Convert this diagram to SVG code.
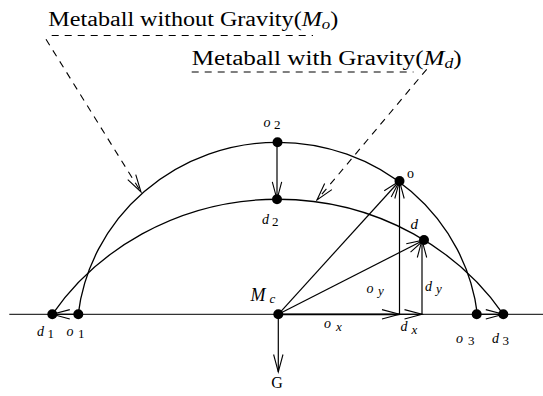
<svg xmlns="http://www.w3.org/2000/svg" width="543" height="396" viewBox="0 0 543 396">
<style>
.curve{fill:none;stroke:#000;stroke-width:1.3}
.axis{fill:none;stroke:#333;stroke-width:1.3}
.vec{fill:none;stroke:#000;stroke-width:1.2;marker-end:url(#ah)}
.dash{fill:none;stroke:#000;stroke-width:1.1;stroke-dasharray:7 6}
.dasharr{fill:none;stroke:#000;stroke-width:1.1;stroke-dasharray:7 6;marker-end:url(#ah)}
.dot{fill:#000}
text{font-family:"Liberation Serif","Times New Roman",serif;fill:#000}
.big{font-size:20px}
.lab{font-size:14px;font-style:italic}
.sub{font-size:13px;font-style:normal}
.subi{font-size:13px;font-style:italic}
.rm{font-size:16px}
</style>
<defs>
<marker id="ah" markerUnits="userSpaceOnUse" markerWidth="20" markerHeight="12" refX="17.5" refY="5" orient="auto" overflow="visible">
<path d="M0,0.3 L17.5,5 L0,9.7" fill="none" stroke="#000" stroke-width="1.1"/>
</marker>
</defs>

<g id="titles">
<text class="big" x="48.3" y="25.5" textLength="290" lengthAdjust="spacingAndGlyphs">Metaball without Gravity(<tspan font-style="italic">M</tspan><tspan font-style="italic" font-size="14" dy="3">o</tspan><tspan dy="-3">)</tspan></text>
<text class="big" x="191.7" y="65" textLength="270" lengthAdjust="spacingAndGlyphs">Metaball with Gravity(<tspan font-style="italic">M</tspan><tspan font-style="italic" font-size="14" dy="3">d</tspan><tspan dy="-3">)</tspan></text>
</g>

<g id="shapes">
<path class="axis" d="M9.3,314.3 H543"/>
<path id="outer-metaball" class="curve" d="M78.2,314.3 A201,195 0 0 1 477.4,314.3"/>
<path id="inner-metaball" class="curve" d="M52.3,314.3 A269.9,255.4 0 0 1 503.3,314.3"/>
</g>

<g id="connectors">
<path class="dash" d="M51.7,35.5 H313"/>
<path class="dash" d="M191.7,72 H413.5"/>
<path class="dasharr" d="M46,39.3 L141,192"/>
<path class="dasharr" d="M426.7,69.3 L317,200"/>
<path class="vec" d="M277,142.3 V199.3"/>
<path class="vec" d="M78.3,314.3 H52.3"/>
<path class="vec" d="M476.7,314.3 H503.3"/>
<path class="vec" d="M278.3,314.3 V372"/>
<path class="vec" style="stroke-width:1.8" d="M278.3,314.3 H399.5"/>
<path class="vec" d="M399.5,314.3 H422"/>
<path class="vec" d="M399.5,314.3 V181"/>
<path class="vec" d="M422,314.3 V240"/>
<path class="vec" d="M278.3,314.3 L399.5,181"/>
<path class="vec" d="M278.3,314.3 L424,240"/>
</g>

<g id="node-o2"><circle class="dot" cx="277.5" cy="142.3" r="5"/><text class="lab" x="263.5" y="127">o<tspan class="sub" x="274" y="128.5">2</tspan></text></g>
<g id="node-d2"><circle class="dot" cx="277" cy="199.3" r="5"/><text class="lab" x="262" y="224">d<tspan class="sub" x="272" y="226">2</tspan></text></g>
<g id="node-d1"><circle class="dot" cx="52.3" cy="314.3" r="5"/><text class="lab" x="37" y="336">d<tspan class="sub" x="47.5" y="337.5">1</tspan></text></g>
<g id="node-o1"><circle class="dot" cx="78.3" cy="314.3" r="5"/><text class="lab" x="66.5" y="336">o<tspan class="sub" x="78" y="337.5">1</tspan></text></g>
<g id="node-o3"><circle class="dot" cx="476.7" cy="314.3" r="5"/><text class="lab" x="456" y="343">o<tspan class="sub" x="468" y="344.5">3</tspan></text></g>
<g id="node-d3"><circle class="dot" cx="503.3" cy="314.3" r="5"/><text class="lab" x="492" y="343">d<tspan class="sub" x="502.5" y="344.5">3</tspan></text></g>
<g id="node-Mc"><circle class="dot" cx="278.3" cy="314.3" r="5"/><text class="lab" style="font-size:18px" x="250.5" y="300.5">M<tspan class="subi" style="font-size:13px" x="269.5" y="302.5">c</tspan></text></g>
<g id="node-o"><circle class="dot" cx="399.5" cy="181" r="5"/><text style="font-size:14px" x="407" y="177.5">o</text></g>
<g id="node-d"><circle class="dot" cx="424" cy="240" r="5"/><text class="lab" style="font-size:15px" x="410.5" y="228.5">d</text></g>
<g id="node-G"><text class="rm" x="277" y="388.3" text-anchor="middle">G</text></g>
<g id="label-ox"><text class="lab" x="324" y="328">o<tspan class="subi" x="336" y="331">x</tspan></text></g>
<g id="label-oy"><text class="lab" x="366.5" y="293">o<tspan class="subi" x="378" y="295">y</tspan></text></g>
<g id="label-dx"><text class="lab" x="400.5" y="331">d<tspan class="subi" x="411.5" y="334">x</tspan></text></g>
<g id="label-dy"><text class="lab" x="425" y="290.5">d<tspan class="subi" x="436" y="292.5">y</tspan></text></g>
</svg>
